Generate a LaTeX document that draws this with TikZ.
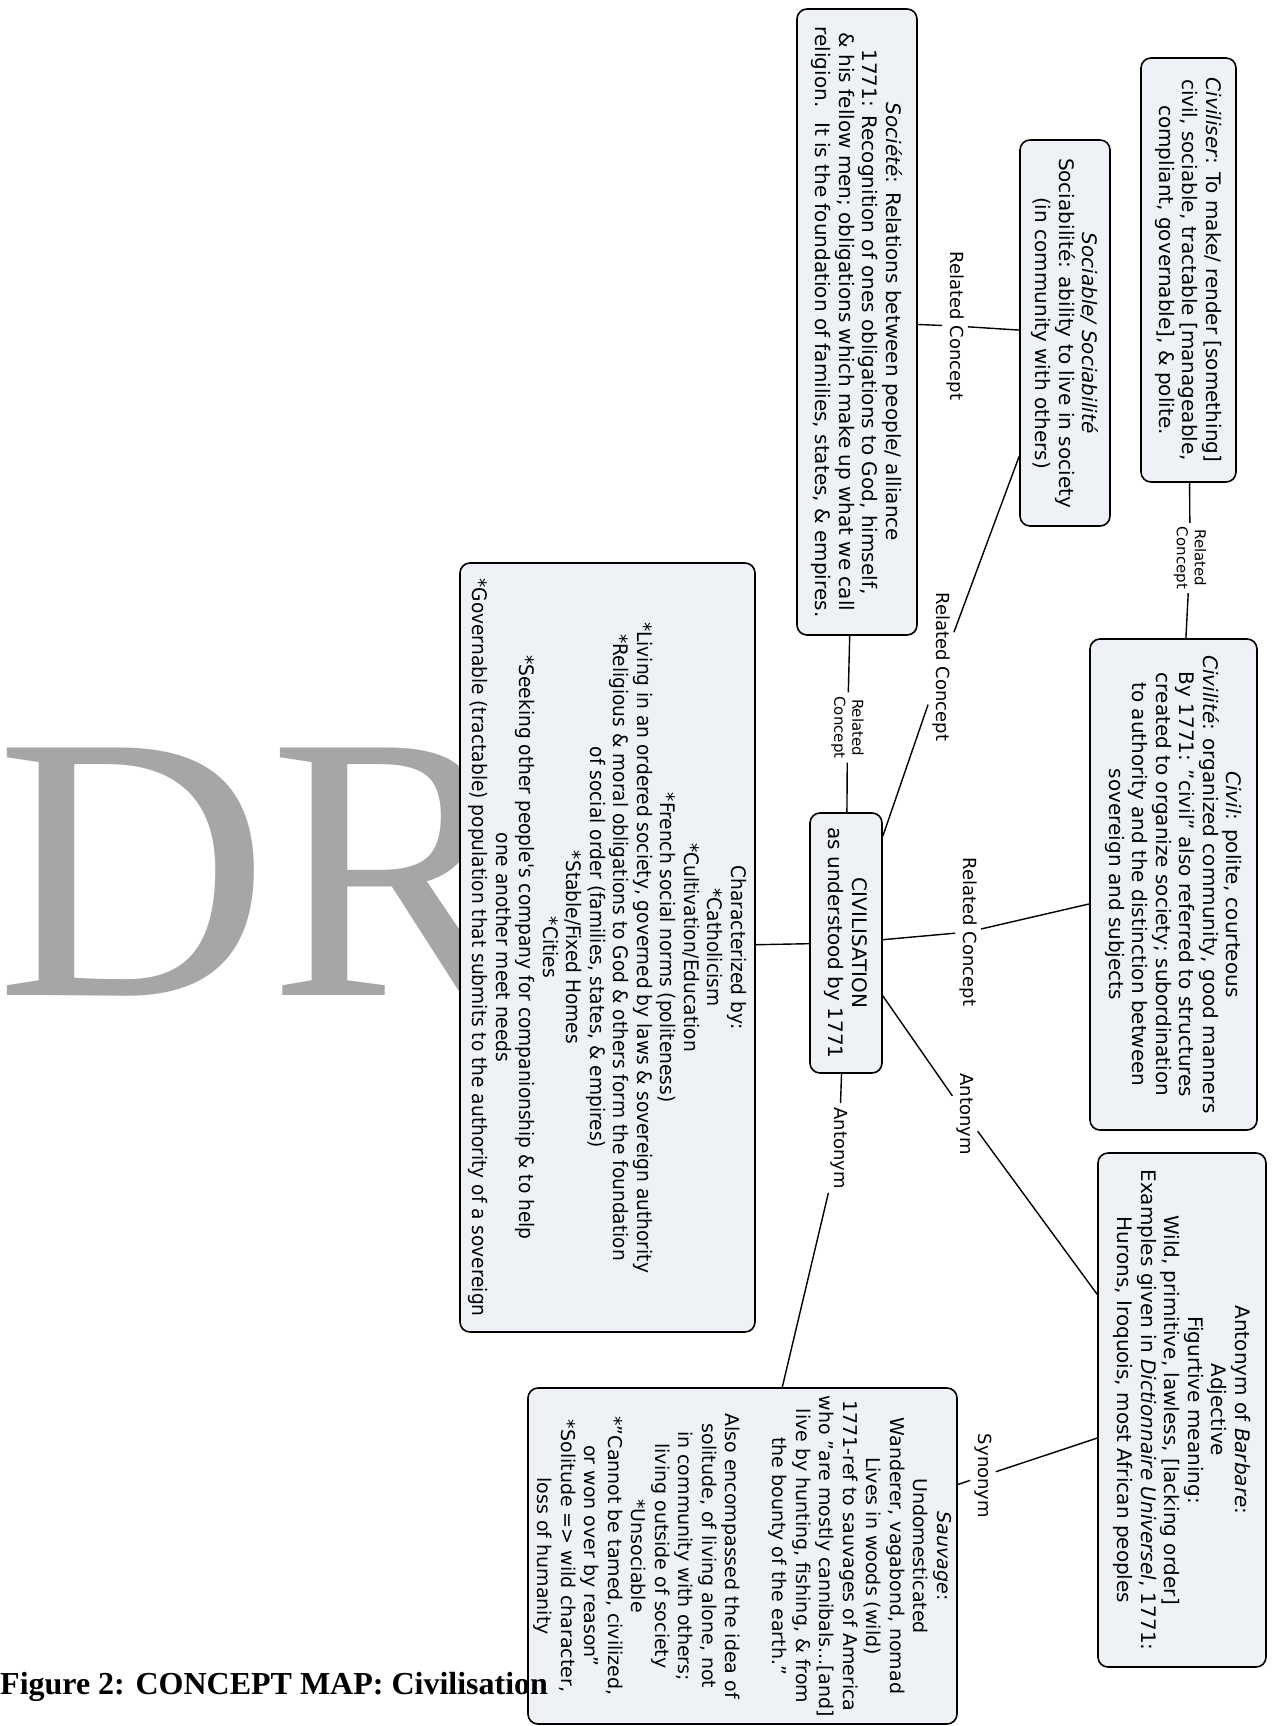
\documentclass[tikz,border=0pt]{standalone}
\usepackage{fontspec}
\setmainfont{DejaVu Sans}
\newfontfamily\wmfont{Liberation Serif}
\newfontfamily\condfont[FakeStretch=0.93]{DejaVu Sans}
\definecolor{boxfill}{RGB}{238,242,246}
\definecolor{wmgray}{RGB}{166,166,166}
\begin{document}
\begin{tikzpicture}[x=1pt,y=-1pt,
  concept/.style={draw=black, line width=1.6pt, fill=boxfill, rounded corners=10pt,
    rotate=-90, align=center, inner sep=0pt, font=\fontsize{20}{23.5}\selectfont},
  charbox/.style={concept, font=\condfont\fontsize{20}{23.5}\selectfont},
  sauvbox/.style={concept, font=\fontsize{19}{23.5}\selectfont},
  linklab/.style={rotate=-90, align=center, inner sep=4pt, font=\fontsize{18}{21}\selectfont},
  smalllab/.style={rotate=-90, align=center, inner sep=4pt, font=\fontsize{15}{18}\selectfont},
  conn/.style={draw=black, line width=1.4pt}]
\useasboundingbox (0,0) rectangle (1279,1726);
\fill[white] (0,0) rectangle (1279,1726);
% watermark
\node[anchor=base west, inner sep=0pt, text=wmgray, font=\wmfont\fontsize{378}{400}\selectfont] (wm) at (-4,995) {DR};
% concepts
\node[concept, minimum width=424pt, minimum height=95pt] (civiliser) at (1188.5,270)
  {\textit{Civiliser}: To make/ render [something]\\civil, sociable, tractable [manageable,\\compliant, governable], \& polite.};
\node[concept, minimum width=386pt, minimum height=90pt] (sociable) at (1065,333)
  {\textit{Sociable/ Sociabilité}\\Sociabilité: ability to live in society\\(in community with others)};
\node[concept, minimum width=626pt, minimum height=120pt] (societe) at (857,322)
  {\textit{Société}: Relations between people/ alliance\\1771: Recognition of ones obligations to God, himself,\\\& his fellow men; obligations which make up what we call\\religion.~ It is the foundation of families, states, \& empires.};
\node[concept, minimum width=491pt, minimum height=167pt] (civil) at (1173.5,884.5)
  {\textit{Civil}: polite, courteous\\\textit{Civilité}: organized community, good manners\\By 1771: "civil" also referred to structures\\created to organize society; subordination\\to authority and the distinction between\\sovereign and subjects};
\node[concept, minimum width=514pt, minimum height=168pt] (barbare) at (1182,1410)
  {Antonym of \textit{Barbare}:\\Adjective\\Figurtive meaning:\\Wild, primitive, lawless, [lacking order]\\Examples given in \textit{Dictionnaire Universel}, 1771:\\Hurons, Iroquois, most African peoples};
\node[sauvbox, minimum width=336pt, minimum height=429pt] (sauvage) at (742.5,1556)
  {\textit{Sauvage}:\\Undomesticated\\Wanderer, vagabond, nomad\\Lives in woods (wild)\\1771-ref to sauvages of America\\who "are mostly cannibals...[and]\\live by hunting, fishing, \& from\\the bounty of the earth."\\[23.5pt]Also encompassed the idea of\\solitude, of living alone, not\\in community with others;\\living outside of society\\{}*Unsociable\\{}*"Cannot be tamed, civilized,\\or won over by reason"\\{}*Solitude => wild character,\\loss of humanity};
\node[charbox, minimum width=769pt, minimum height=295pt] (charact) at (607.5,947.5)
  {Characterized by:\\{}*Catholicism\\{}*Cultivation/Education\\{}*French social norms (politeness)\\{}*Living in an ordered society, governed by laws \& sovereign authority\\{}*Religious \& moral obligations to God \& others form the foundation\\of social order (families, states, \& empires)\\{}*Stable/Fixed Homes\\{}*Cities\\{}*Seeking other people's company for companionship \& to help\\one another meet needs\\{}*Governable (tractable) population that submits to the authority of a sovereign};
\node[concept, minimum width=260pt, minimum height=72pt] (civilisation) at (846,943)
  {CIVILISATION\\as understood by 1771};
% link labels
\node[smalllab] (la) at (1190,558) {Related\\Concept};
\node[linklab] (lb) at (955,326) {Related Concept};
\node[linklab] (lc) at (941,667) {Related Concept};
\node[smalllab] (ld) at (847.5,727.5) {Related\\Concept};
\node[linklab] (le) at (968,932) {Related Concept};
\node[linklab] (lg) at (965,1114) {Antonym};
\node[linklab] (lh) at (839,1148) {Antonym};
\node[linklab] (li) at (983,1476) {Synonym};
% connectors
\draw[conn] (civiliser) -- (la);
\draw[conn] (la) -- (civil);
\draw[conn] (sociable) -- (lb);
\draw[conn] (lb) -- (societe);
\draw[conn] (sociable) -- (lc);
\draw[conn] (lc) -- (civilisation);
\draw[conn] (societe) -- (ld);
\draw[conn] (ld) -- (civilisation);
\draw[conn] (civilisation) -- (le);
\draw[conn] (le) -- (civil);
\draw[conn] (civilisation) -- (charact);
\draw[conn] (civilisation) -- (lg);
\draw[conn] (lg) -- (barbare);
\draw[conn] (civilisation) -- (lh);
\draw[conn] (lh) -- (sauvage);
\draw[conn] (barbare) -- (li);
\draw[conn] (li) -- (sauvage);
% caption
\node[anchor=base west, inner sep=0pt, font=\wmfont\bfseries\fontsize{32}{38}\selectfont] (cap) at (0,1694) {Figure 2: CONCEPT MAP: Civilisation};
\end{tikzpicture}
\end{document}
